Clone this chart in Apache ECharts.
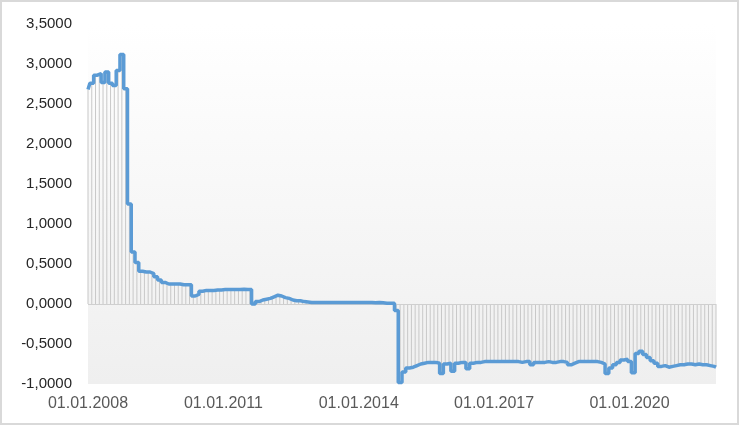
<!DOCTYPE html>
<html>
<head>
<meta charset="utf-8">
<script src="https://cdn.jsdelivr.net/npm/echarts@6/dist/echarts.min.js"></script>
<style>
  html, body { margin: 0; padding: 0; background: #fff; }
  #wrap { position: relative; width: 739px; height: 427px; }
  #chart { position: absolute; left: 0; top: 0; width: 739px; height: 427px; }
  #frame { position: absolute; left: 0; top: 0; width: 735px; height: 421px;
           border: 2px solid #d9d9d9; pointer-events: none; }
</style>
</head>
<body>
<div id="wrap">
  <div id="chart"></div>
  <div id="frame"></div>
</div>
<script>
// monthly values, Jan 2008 .. Dec 2021
var years = [2008, 2009, 2010, 2011, 2012, 2013, 2014, 2015, 2016, 2017, 2018, 2019, 2020, 2021];
var v2008 = [2.68, 2.76, 2.86, 2.88, 2.77, 2.90, 2.76, 2.73, 2.92, 3.12, 2.69, 1.25];
var v2009 = [0.65, 0.52, 0.41, 0.40, 0.40, 0.38, 0.34, 0.30, 0.27, 0.25, 0.25, 0.25];
var v2010 = [0.25, 0.24, 0.24, 0.24, 0.10, 0.12, 0.16, 0.17, 0.17, 0.17, 0.175, 0.175];
var v2011 = [0.18, 0.18, 0.18, 0.18, 0.18, 0.185, 0.18, 0.18, 0.00, 0.03, 0.05, 0.06];
var v2012 = [0.07, 0.09, 0.11, 0.10, 0.08, 0.07, 0.05, 0.04, 0.04, 0.03, 0.025, 0.02];
var v2013 = [0.02, 0.02, 0.02, 0.02, 0.02, 0.02, 0.02, 0.02, 0.02, 0.02, 0.02, 0.02];
var v2014 = [0.02, 0.02, 0.02, 0.02, 0.015, 0.02, 0.015, 0.01, 0.01, 0.01, -0.08, -0.98];
var v2015 = [-0.85, -0.80, -0.79, -0.77, -0.75, -0.74, -0.73, -0.73, -0.73, -0.74, -0.87, -0.75];
var v2016 = [-0.74, -0.84, -0.74, -0.73, -0.73, -0.81, -0.74, -0.73, -0.73, -0.72, -0.72, -0.72];
var v2017 = [-0.72, -0.72, -0.72, -0.72, -0.72, -0.72, -0.72, -0.73, -0.72, -0.72, -0.76, -0.73];
var v2018 = [-0.73, -0.73, -0.72, -0.73, -0.73, -0.72, -0.72, -0.73, -0.76, -0.74, -0.72, -0.72];
var v2019 = [-0.72, -0.72, -0.72, -0.72, -0.73, -0.75, -0.87, -0.80, -0.76, -0.73, -0.70, -0.69];
var v2020 = [-0.72, -0.86, -0.62, -0.59, -0.63, -0.67, -0.71, -0.74, -0.78, -0.77, -0.79, -0.78];
var v2021 = [-0.77, -0.76, -0.76, -0.75, -0.75, -0.76, -0.75, -0.76, -0.76, -0.77, -0.78, -0.79];

var xTickLabels = ['01.01.2008', '01.01.2011', '01.01.2014', '01.01.2017', '01.01.2020'];

var values = [].concat(v2008, v2009, v2010, v2011, v2012, v2013, v2014,
                       v2015, v2016, v2017, v2018, v2019, v2020, v2021);
var months = [];
for (var y = 0; y < years.length; y++) {
    for (var m = 1; m <= 12; m++) {
        months.push((m < 10 ? '0' + m : m) + '.' + years[y]);
    }
}

var myChart = echarts.init(document.getElementById('chart'));

var option = {
    animation: false,
    grid: {
        left: 88, right: 23, top: 24, bottom: 43,
        show: true,
        borderWidth: 0,
        backgroundColor: new echarts.graphic.LinearGradient(0, 0, 0, 1, [
            { offset: 0, color: '#ffffff' },
            { offset: 1, color: '#efefef' }
        ])
    },
    xAxis: {
        type: 'category',
        boundaryGap: false,
        data: months,
        axisLine: { show: false },
        axisTick: { show: false },
        axisLabel: {
            interval: function (i) { return i % 36 === 0; },
            formatter: function (val, i) { return xTickLabels[i / 36] || ''; },
            color: '#595959',
            fontFamily: 'Liberation Sans',
            fontSize: 16,
            margin: 12
        }
    },
    yAxis: {
        type: 'value',
        min: -1,
        max: 3.5,
        interval: 0.5,
        axisLine: { show: false },
        axisTick: { show: false },
        splitLine: { show: false },
        axisLabel: {
            formatter: function (v) { return v.toFixed(4).replace('.', ','); },
            color: '#262626',
            fontFamily: 'Liberation Sans',
            fontSize: 15,
            margin: 16
        }
    },
    series: [{
        type: 'bar',
        data: values,
        barWidth: 1,
        itemStyle: { color: '#c8c8c8' },
        silent: true,
        markLine: {
            silent: true,
            symbol: 'none',
            label: { show: false },
            lineStyle: { color: '#cfcfcf', width: 1, type: 'solid' },
            data: [{ yAxis: 0 }]
        }
    }, {
        type: 'line',
        data: values,
        step: 'middle',
        symbol: 'none',
        z: 5,
        lineStyle: { color: '#5b9bd5', width: 3.5 }
    }]
};

myChart.setOption(option);
</script>
</body>
</html>
